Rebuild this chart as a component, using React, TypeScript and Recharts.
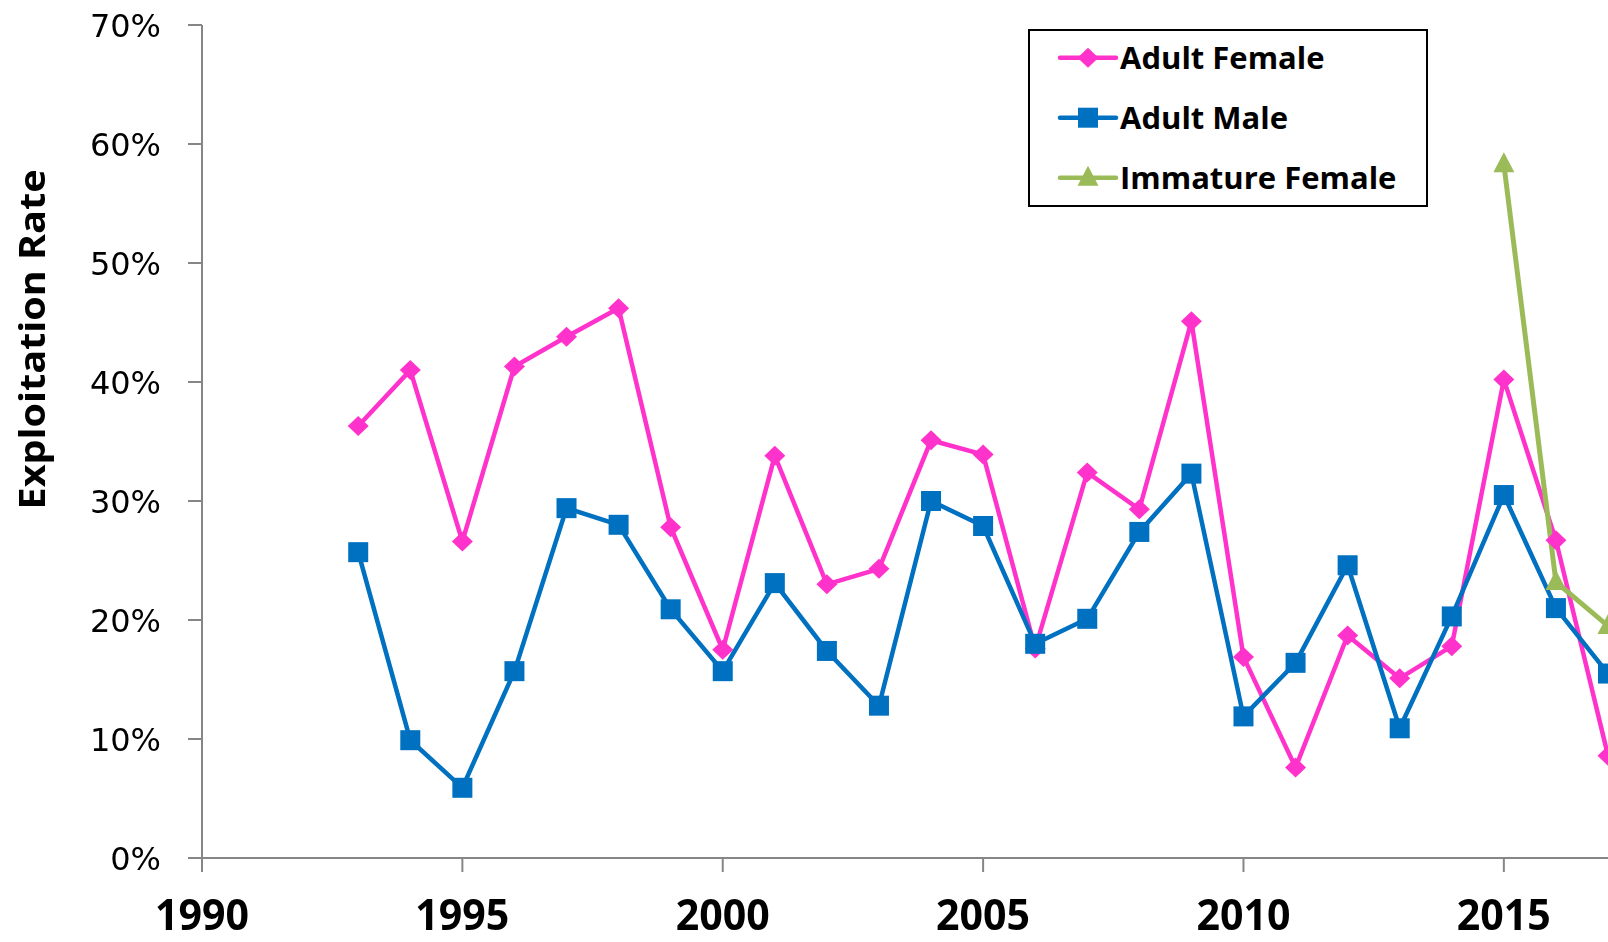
import React from 'react';
import { LineChart, Line, XAxis, YAxis, Legend } from 'recharts';

const years = [1993, 1994, 1995, 1996, 1997, 1998, 1999, 2000, 2001, 2002, 2003, 2004, 2005, 2006, 2007, 2008, 2009, 2010, 2011, 2012, 2013, 2014, 2015, 2016, 2017];
const adultFemale = [36.3, 41.0, 26.6, 41.3, 43.8, 46.2, 27.8, 17.5, 33.8, 23.0, 24.3, 35.1, 33.9, 17.6, 32.4, 29.3, 45.1, 16.9, 7.6, 18.7, 15.1, 17.8, 40.2, 26.7, 8.6];
const adultMale = [25.7, 9.9, 5.9, 15.7, 29.4, 28.0, 20.9, 15.7, 23.1, 17.4, 12.8, 30.0, 27.9, 18.0, 20.1, 27.4, 32.3, 11.9, 16.4, 24.6, 10.9, 20.3, 30.5, 21.0, 15.5];
const immatureFemale: (number | null)[] = [null, null, null, null, null, null, null, null, null, null, null, null, null, null, null, null, null, null, null, null, null, null, 58.3, 23.2, 19.5];

const xTicks = [1990, 1995, 2000, 2005, 2010, 2015];
const yTicks = [0, 10, 20, 30, 40, 50, 60, 70];

const seriesNames = ['Adult Female', 'Adult Male', 'Immature Female'];
const PINK = '#FF33CC';
const BLUE = '#0070C0';
const GREEN = '#9BBB59';

const data = years.map((y, i) => ({
  year: y,
  af: adultFemale[i],
  am: adultMale[i],
  imf: immatureFemale[i],
}));

const Diamond = (props: any) => {
  const { cx, cy, index } = props;
  if (cx == null || cy == null || props.value == null) return <g key={`dd-${index}`} />;
  return (
    <path key={`d-${index}`} d={`M${cx},${cy - 10} L${cx + 10.5},${cy} L${cx},${cy + 10} L${cx - 10.5},${cy} Z`} fill={PINK} />
  );
};
const Square = (props: any) => {
  const { cx, cy, index } = props;
  if (cx == null || cy == null || props.value == null) return <g key={`ss-${index}`} />;
  return <rect key={`s-${index}`} x={cx - 10} y={cy - 10} width={20} height={20} fill={BLUE} />;
};
const Triangle = (props: any) => {
  const { cx, cy, index } = props;
  if (cx == null || cy == null || props.value == null) return <g key={`tt-${index}`} />;
  return <path key={`t-${index}`} d={`M${cx},${cy - 12} L${cx + 10.5},${cy + 8} L${cx - 10.5},${cy + 8} Z`} fill={GREEN} />;
};

const XTick = (props: any) => {
  const { x, payload } = props;
  return (
    <text x={x} y={922} textAnchor="middle" fontFamily="'Open Sans', sans-serif" fontWeight={700} fontSize={43} fill="#000" textLength={94} lengthAdjust="spacingAndGlyphs">
      {payload.value}
    </text>
  );
};

const YTick = (props: any) => {
  const { y, payload } = props;
  return (
    <text x={153} y={y} dy={11.5} textAnchor="end" fontFamily="'DejaVu Sans', sans-serif" fontSize={32} fill="#000">
      {`${payload.value}%`}
    </text>
  );
};

const YLabel = () => (
  <text transform="rotate(-90)" x={-331.5} y={36.5} textAnchor="middle" fontFamily="'Open Sans', sans-serif" fontWeight={700} fontSize={36} fill="#000" textLength={340} lengthAdjust="spacingAndGlyphs">
    Exploitation Rate
  </text>
);

const LegendBox = () => {
  const colors = [PINK, BLUE, GREEN];
  return (
    <svg width={400} height={178} style={{ display: 'block' }}>
      <rect x={1} y={1} width={398} height={176} fill="#fff" stroke="#000" strokeWidth={2} />
      {seriesNames.map((name, i) => {
        const cy = 28.7 + i * 60;
        const cx = 60;
        let marker;
        if (i === 0) marker = <path d={`M${cx},${cy - 10} L${cx + 10.5},${cy} L${cx},${cy + 10} L${cx - 10.5},${cy} Z`} fill={PINK} />;
        else if (i === 1) marker = <rect x={cx - 10} y={cy - 10} width={20} height={20} fill={BLUE} />;
        else marker = <path d={`M${cx},${cy - 12} L${cx + 10.5},${cy + 8} L${cx - 10.5},${cy + 8} Z`} fill={GREEN} />;
        return (
          <g key={name}>
            <line x1={32} y1={cy} x2={88} y2={cy} stroke={colors[i]} strokeWidth={4.5} strokeLinecap="round" />
            {marker}
            <text x={92} y={cy + 11} fontFamily="'Open Sans', sans-serif" fontWeight={700} fontSize={31} fill="#000">
              {name}
            </text>
          </g>
        );
      })}
    </svg>
  );
};

export default function App() {
  return (
    <div style={{ position: 'fixed', left: 8, top: 8, width: 1600, height: 934, overflow: 'hidden' }}>
      <LineChart width={1600} height={934} data={data} margin={{ top: 17, right: 0, left: 0, bottom: 0 }}>
        <XAxis
          dataKey="year"
          type="number"
          domain={[1990, 2017]}
          ticks={xTicks}
          allowDataOverflow
          height={84}
          tickSize={14}
          stroke="#868686"
          strokeWidth={2}
          tick={<XTick />}
          interval={0}
        />
        <YAxis
          type="number"
          domain={[0, 70]}
          ticks={yTicks}
          width={194}
          tickSize={14}
          stroke="#868686"
          strokeWidth={2}
          tick={<YTick />}
          interval={0}
          label={{ content: () => <YLabel /> }}
        />
        <Legend
          layout="vertical"
          align="center"
          verticalAlign="middle"
          content={() => <LegendBox />}
          wrapperStyle={{ position: 'absolute', left: 1020, top: 21, width: 400, height: 178 }}
        />
        <Line type="linear" dataKey="af" name={seriesNames[0]} stroke={PINK} strokeWidth={4.5} dot={Diamond} activeDot={false} isAnimationActive={false} />
        <Line type="linear" dataKey="am" name={seriesNames[1]} stroke={BLUE} strokeWidth={4.5} dot={Square} activeDot={false} isAnimationActive={false} />
        <Line type="linear" dataKey="imf" name={seriesNames[2]} stroke={GREEN} strokeWidth={5} dot={Triangle} activeDot={false} isAnimationActive={false} connectNulls={false} />
      </LineChart>
    </div>
  );
}
